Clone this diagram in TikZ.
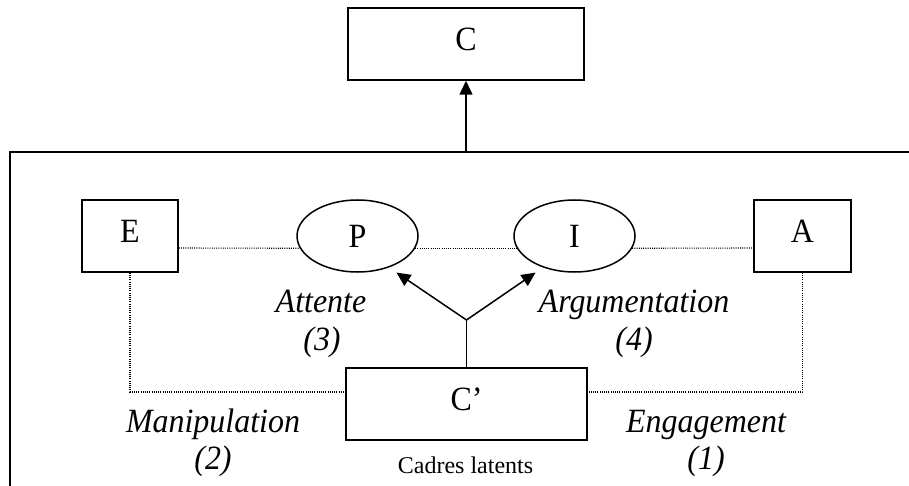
\documentclass[tikz,border=0pt]{standalone}
\usepackage{fontspec}
\setmainfont{Liberation Serif}
\newfontfamily\condfont{Liberation Serif}[FakeStretch=0.94]
\usetikzlibrary{arrows.meta,shapes.geometric}
\begin{document}
\begin{tikzpicture}[x=1pt,y=-1pt,
  box/.style={draw,line width=1.5pt,minimum height=72pt,inner sep=0pt,font=\condfont\fontsize{34}{40}\selectfont,text height=23pt,text depth=10pt},
  oval/.style={draw,ellipse,line width=1.5pt,minimum width=121pt,minimum height=72pt,inner sep=0pt,font=\condfont\fontsize{34}{40}\selectfont},
  lbl/.style={font=\condfont\fontsize{34}{40}\selectfont\itshape,anchor=base,inner sep=0pt},
  small/.style={font=\fontsize{24}{28}\selectfont,anchor=base,inner sep=0pt},
  dotline/.style={line width=1.1pt,dash pattern=on 1pt off 1.2pt},
  arr/.style={line width=1.5pt,-{Triangle[length=14pt,width=13pt]}}
]
\useasboundingbox (0,0) rectangle (909,486);
% outer frame
\draw[line width=2pt] (10,495) -- (10,152) -- (920,152);
% nodes
\node[box,minimum width=236pt] (C) at (466,44) {C};
\node[box,minimum width=96pt] (E) at (130,236) {E};
\node[box,minimum width=97pt] (A) at (802.5,236) {A};
\node[oval] (P) at (357.5,236) {P};
\node[oval] (I) at (574.5,236) {I};
\node[box,minimum width=241pt] (Cp) at (466.5,404) {C’};
% coordinates
\coordinate (top) at (466,152);
\coordinate (br) at (466.5,320);
\coordinate (L) at (0,248);
\coordinate (M) at (0,392);
% arrows
\draw[arr] (top) -- (C.south);
\draw[line width=1.5pt] (Cp.north) -- (br);
\draw[arr,shorten >=9pt] (br) -- (P.-45);
\draw[arr,shorten >=9pt] (br) -- (I.-135);
% dotted links
\draw[dotline] (E.east |- L) -- (P.192);
\draw[dotline] (P.348) -- (I.192);
\draw[dotline] (I.348) -- (A.west |- L);
\draw[dotline] (E.south) |- (Cp.west |- M);
\draw[dotline] (A.south) |- (Cp.east |- M);
% labels
\node[lbl] (att) at (321,312) {Attente};
\node[lbl] (n3) at (322,350) {(3)};
\node[lbl] (arg) at (634,312) {Argumentation};
\node[lbl] (n4) at (634,350) {(4)};
\node[lbl] (man) at (213,432) {Manipulation};
\node[lbl] (n2) at (213,469) {(2)};
\node[lbl] (eng) at (706,432) {Engagement};
\node[lbl] (n1) at (706,469) {(1)};
\node[small] (cad) at (465.5,473) {Cadres latents};
\end{tikzpicture}
\end{document}
